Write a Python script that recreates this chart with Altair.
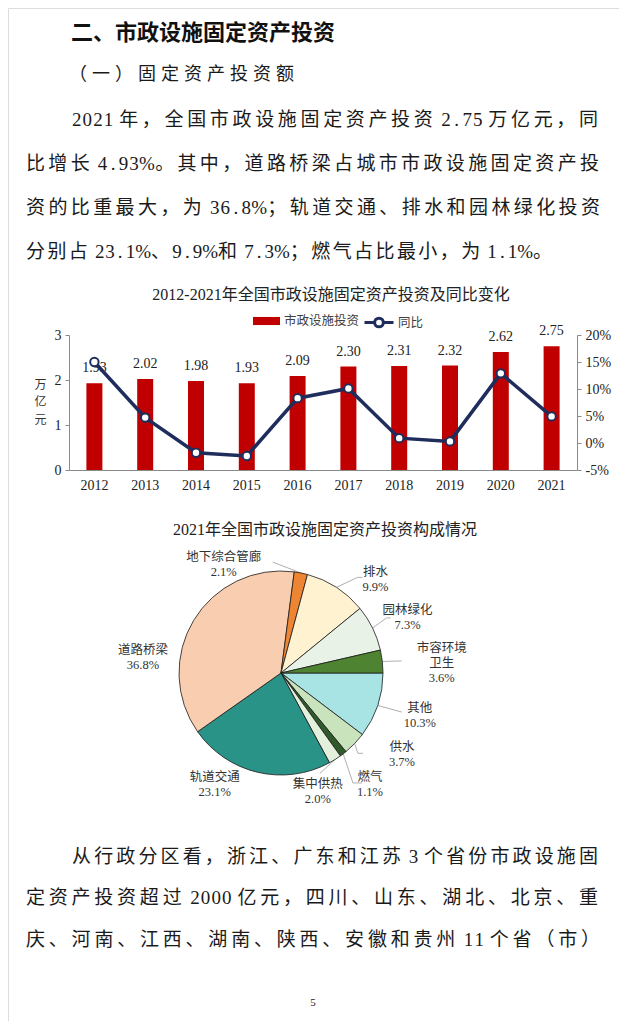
import math
import altair as alt
import pandas as pd

M = 8  # page margin of the browser

# ---------------- data ----------------
years = ["2012", "2013", "2014", "2015", "2016", "2017", "2018", "2019", "2020", "2021"]
invest = [1.93, 2.02, 1.98, 1.93, 2.09, 2.30, 2.31, 2.32, 2.62, 2.75]
yoy = [15.0, 4.7, -1.8, -2.4, 8.3, 10.1, 0.9, 0.3, 12.9, 4.93]
left_ticks = [0, 1, 2, 3]
right_ticks = [-5, 0, 5, 10, 15, 20]
bar_series = "市政设施投资"
line_series = "同比"

pie_names = ["其他", "供水", "燃气", "集中供热", "轨道交通", "道路桥梁",
             "地下综合管廊", "排水", "园林绿化", "市容环境卫生"]
pie_text = ["其他", "供水", "燃气", "集中供热", "轨道交通", "道路桥梁",
            "地下综合管廊", "排水", "园林绿化", "市容环境\n卫生"]
pie_values = [10.3, 3.7, 1.1, 2.0, 23.1, 36.8, 2.1, 9.9, 7.3, 3.6]
pie_colors = ["#A8E4E4", "#C9E3BC", "#2F5B2A", "#E3F1DC", "#2A9388", "#F8CDB0",
              "#EE8532", "#FEF2D0", "#E8F2E6", "#4E8431"]

heading = "二、市政设施固定资产投资"
subheading = "（一）固定资产投资额"
para1 = ["2021 年，全国市政设施固定资产投资 2.75 万亿元，同",
         "比增长 4.93%。其中，道路桥梁占城市市政设施固定资产投",
         "资的比重最大，为 36.8%；轨道交通、排水和园林绿化投资",
         "分别占 23.1%、9.9%和 7.3%；燃气占比最小，为 1.1%。"]
para2 = ["从行政分区看，浙江、广东和江苏 3 个省份市政设施固",
         "定资产投资超过 2000 亿元，四川、山东、湖北、北京、重",
         "庆、河南、江西、湖南、陕西、安徽和贵州 11 个省（市）"]
bar_title = "2012-2021年全国市政设施固定资产投资及同比变化"
pie_title = "2021年全国市政设施固定资产投资构成情况"
page_no = "5"

SERIF = "Liberation Serif, Noto Sans CJK SC"
SANS = "Noto Sans CJK SC"


# ---------------- page typesetting helpers ----------------
def is_wide(c):
    return ord(c) > 0x2E7F


def layout_line(text, x0, x1, fs, y, g_fixed=3.6):
    items = []
    for c in text:
        if c == " ":
            items.append((c, 0.25 * fs, 0.0))
        elif is_wide(c):
            items.append((c, fs, 1.0))
        elif c == "%":
            items.append((c, 0.75 * fs, 0.3))
        else:
            items.append((c, 0.5 * fs, 0.3))
    nat = sum(w for _, w, _ in items)
    gw = sum(gf for _, _, gf in items[:-1])
    g = (x1 - x0 - nat) / gw if x1 is not None else g_fixed
    rows, x = [], x0
    for c, w, gf in items:
        if c != " ":
            rows.append({"ch": c, "x": x + w / 2 - M, "y": y - M})
        x += w + gf * g
    return rows


head_rows = layout_line(heading, 71, 335, 22, 33)
sub_rows = layout_line(subheading, 69, 294, 18, 75)
body_rows = []
body_rows += layout_line(para1[0], 72, 598, 19, 120)
body_rows += layout_line(para1[1], 26, 599, 19, 164)
body_rows += layout_line(para1[2], 26, 600, 19, 208)
body_rows += layout_line(para1[3], 26, 552, 19, 252)
body_rows += layout_line(para2[0], 72, 598, 19, 857)
body_rows += layout_line(para2[1], 26, 598, 19, 898)
body_rows += layout_line(para2[2], 26, 600, 19, 940)


def text_layer(rows, font, size, weight="normal", color="#1a1a1a"):
    return alt.Chart(pd.DataFrame(rows)).mark_text(
        font=font, fontSize=size, fontWeight=weight, color=color,
        align="center", baseline="middle"
    ).encode(
        x=alt.X("x:Q", scale=None, axis=None),
        y=alt.Y("y:Q", scale=None, axis=None),
        text="ch:N",
    )


head_layer = text_layer(head_rows, SANS, 22, "bold", "#111111")
sub_layer = text_layer(sub_rows, SERIF, 18)
body_layer = text_layer(body_rows, SERIF, 19)


def single_text(t, x, y, size, font=SERIF, color="#222222"):
    return alt.Chart(pd.DataFrame({"t": [t]})).mark_text(
        font=font, fontSize=size, color=color, align="center", baseline="middle"
    ).encode(text="t:N", x=alt.value(x - M), y=alt.value(y - M))


bar_title_layer = single_text(bar_title, 331, 295, 16)
pie_title_layer = single_text(pie_title, 325, 530, 16)
page_layer = single_text(page_no, 313, 1003, 11)

# ---------------- combo chart ----------------
X0, X1 = 69 - M, 577 - M
YB, YT = 470 - M, 335 - M
W, H = 627 - 2 * M, 1029 - 2 * M
axis_col = "#8a8a8a"
red = "#C00000"
navy = "#1F2D5C"

bar_df = pd.DataFrame({"year": years, "inv": invest, "yoy": yoy})
x_scale = alt.Scale(domain=years, range=[X0, X1], paddingInner=0, paddingOuter=0)
xenc = alt.X("year:N", scale=x_scale,
             axis=alt.Axis(orient="bottom", offset=-(H - YB), ticks=False, labelPadding=8,
                           labelAngle=0, labelFont="Liberation Serif", labelFontSize=14,
                           labelColor="#222", domainColor=axis_col, title=None, grid=False))
xenc_noaxis = alt.X("year:N", scale=x_scale, axis=None)

yleft_scale = alt.Scale(domain=[0, 3], range=[YB, YT], nice=False)
bars = alt.Chart(bar_df).mark_bar(size=16).encode(
    x=xenc,
    y=alt.Y("inv:Q", scale=yleft_scale,
            axis=alt.Axis(orient="left", offset=-X0, values=left_ticks, format="d", tickSize=4,
                          labelPadding=4, grid=False, domainColor=axis_col, tickColor=axis_col,
                          labelColor="#222", labelFont="Liberation Serif", labelFontSize=14,
                          title=["万", "亿", "元"], titleAngle=0, titleFont=SANS, titleFontSize=12,
                          titleFontWeight="normal", titleColor="#333", titleX=-29,
                          titleY=384 - M, titleLineHeight=17.5, titleBaseline="middle",
                          titleAlign="center")),
    fill=alt.Fill("s:N", scale=alt.Scale(domain=[bar_series], range=[red]),
                  legend=alt.Legend(orient="none", legendX=253 - M, legendY=321 - M - 13.5,
                                    title=None, padding=0,
                                    symbolType="M-1,-0.3L1,-0.3L1,0.3L-1,0.3Z", symbolSize=729,
                                    symbolStrokeWidth=0, labelFont=SANS, labelFontSize=12.5,
                                    labelColor="#404040", labelOffset=4)),
).transform_calculate(s=f"'{bar_series}'")

bar_labels = alt.Chart(bar_df).mark_text(
    font="Liberation Serif", fontSize=14, color="#222", baseline="middle", dy=-15
).encode(x=xenc_noaxis, y=alt.Y("inv:Q", scale=yleft_scale, axis=None),
         text=alt.Text("inv:Q", format=".2f"))

yright_scale = alt.Scale(domain=[-5, 20], range=[YB, YT], nice=False, zero=False)
line = alt.Chart(bar_df).mark_line(strokeWidth=3.5).encode(
    x=xenc_noaxis,
    y=alt.Y("yoy:Q", scale=yright_scale,
            axis=alt.Axis(orient="right", offset=-(W - X1), values=right_ticks,
                          labelExpr="datum.value + '%'", tickSize=4, labelPadding=4, grid=False,
                          domainColor=axis_col, tickColor=axis_col, labelColor="#222",
                          labelFont="Liberation Serif", labelFontSize=14, title=None)),
    stroke=alt.Stroke("s2:N", scale=alt.Scale(domain=[line_series], range=[navy]),
                      legend=alt.Legend(orient="none", legendX=363 - M, legendY=321 - M - 14.5,
                                        title=None, padding=0,
                                        symbolType="M-1,0L-0.3,0M0.3,0A0.3,0.3,0,0,1,-0.3,0A0.3,0.3,0,0,1,0.3,0M0.3,0L1,0",
                                        symbolSize=841, symbolStrokeWidth=3,
                                        symbolFillColor="white", labelFont=SANS,
                                        labelFontSize=12.5, labelColor="#404040",
                                        labelOffset=3)),
).transform_calculate(s2=f"'{line_series}'")

points = alt.Chart(bar_df).mark_point(
    shape="circle", filled=True, fill="white", stroke=navy, strokeWidth=2, size=70, opacity=1
).encode(x=xenc_noaxis, y=alt.Y("yoy:Q", scale=yright_scale, axis=None))

# ---------------- pie ----------------
CX, CY, R = 281 - M, 673 - M, 102
LH = 15
total = sum(pie_values)
pie_df = pd.DataFrame({"name": pie_names, "v": pie_values, "o": list(range(len(pie_names)))})
pie = alt.Chart(pie_df).mark_arc(radius=R, stroke="#1a1a1a", strokeWidth=0.8).encode(
    theta=alt.Theta("v:Q", stack=True,
                    scale=alt.Scale(range=[math.pi / 2, math.pi / 2 + 2 * math.pi])),
    color=alt.Color("name:N", scale=alt.Scale(domain=pie_names, range=pie_colors), legend=None),
    order=alt.Order("o:Q", sort="ascending"),
    x=alt.value(CX), y=alt.value(CY),
)

# label placement (angle nudge in degrees from the slice middle, distance from centre)
label_place = {"其他": (-1.7, 145), "供水": (-9.7, 146), "燃气": (-0.9, 143),
               "集中供热": (14.7, 124), "轨道交通": (17.4, 130), "道路桥梁": (-24.6, 139),
               "地下综合管廊": (-39.0, 123), "排水": (12.4, 133), "园林绿化": (2.6, 138),
               "市容环境卫生": (2.9, 161)}
leader_off = {"地下综合管廊": [(49, -2)], "排水": [(-13, -2), (-18, -2)],
              "园林绿化": [(-17, 0), (-21, 0)], "市容环境卫生": [(-40, -2)],
              "其他": [(-18, -3)], "供水": [(-39, -1.5), (-44, -1.5)],
              "燃气": [(-8, -2), (-17, -2)], "集中供热": [(2, -18)]}

lab_rows, lead_rows = [], []
cum = 0.0
for name, txt, v in zip(pie_names, pie_text, pie_values):
    mid = (cum + v / 2) / total * 360
    cum += v
    nd, dist = label_place[name]
    a = math.radians(mid + nd)
    lx, ly = CX + dist * math.cos(a), CY + dist * math.sin(a)
    t = f"{txt}\n{v:.1f}%"
    nl = t.count("\n")
    lab_rows.append({"t": t, "x": lx, "y": ly - nl * LH / 2})
    if name in leader_off:
        k = 0
        for ox, oy in leader_off[name]:
            lead_rows.append({"id": name, "k": k, "x": lx + ox, "y": ly + oy})
            k += 1
        am = math.radians(mid)
        lead_rows.append({"id": name, "k": k, "x": CX + R * math.cos(am), "y": CY + R * math.sin(am)})

pie_labels = alt.Chart(pd.DataFrame(lab_rows)).mark_text(
    font=SERIF, fontSize=12.5, color="#333", align="center", baseline="middle",
    lineBreak="\n", lineHeight=LH
).encode(x=alt.X("x:Q", scale=None, axis=None), y=alt.Y("y:Q", scale=None, axis=None), text="t:N")

leaders = alt.Chart(pd.DataFrame(lead_rows)).mark_line(stroke="#9a9a9a", strokeWidth=0.8).encode(
    x=alt.X("x:Q", scale=None, axis=None), y=alt.Y("y:Q", scale=None, axis=None),
    detail="id:N", order="k:Q")

chart = alt.layer(
    bars, bar_labels, line, points,
    head_layer, sub_layer, body_layer,
    bar_title_layer,
    pie_title_layer, leaders, pie, pie_labels,
    page_layer,
).resolve_scale(x="independent", y="independent").properties(
    width=W, height=H, padding=0, autosize="none"
).configure_view(stroke=None).configure(background="white")

chart.save("out.html", embed_options={"renderer": "svg", "actions": False})
